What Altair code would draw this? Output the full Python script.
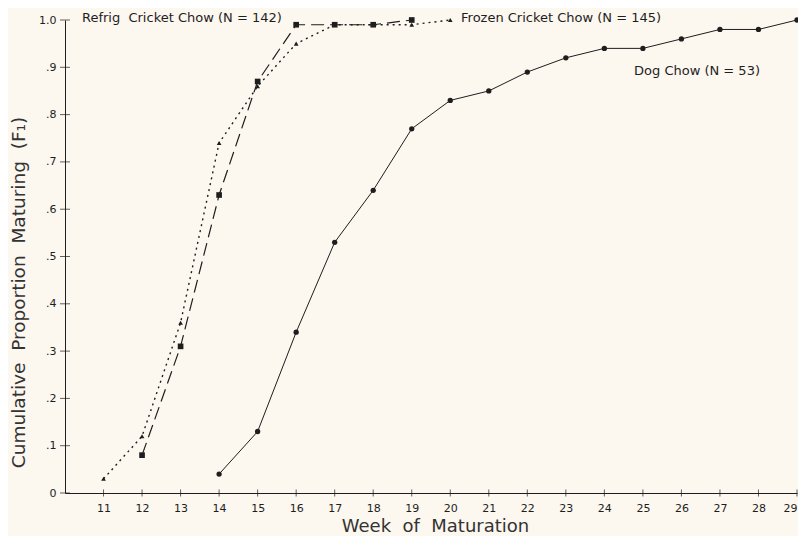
import altair as alt
import pandas as pd

weeks_refrig = [12, 13, 14, 15, 16, 17, 18, 19]
vals_refrig = [0.08, 0.31, 0.63, 0.87, 0.99, 0.99, 0.99, 1.00]

weeks_frozen = [11, 12, 13, 14, 15, 16, 17, 18, 19, 20]
vals_frozen = [0.03, 0.12, 0.36, 0.74, 0.86, 0.95, 0.99, 0.99, 0.99, 1.00]

weeks_dog = [14, 15, 16, 17, 18, 19, 20, 21, 22, 23, 24, 25, 26, 27, 28, 29]
vals_dog = [0.04, 0.13, 0.34, 0.53, 0.64, 0.77, 0.83, 0.85, 0.89, 0.92, 0.94, 0.94, 0.96, 0.98, 0.98, 1.00]

x_ticks = list(range(11, 30))
y_ticks = [0, 0.1, 0.2, 0.3, 0.4, 0.5, 0.6, 0.7, 0.8, 0.9, 1.0]

NB = "\u00a0"
label_text = ["Refrig" + NB + NB + "Cricket Chow (N = 142)", "Frozen Cricket Chow (N = 145)", "Dog Chow (N = 53)"]
label_x = [10.44, 20.28, 24.77]
label_y = [1.005, 1.005, 0.893]

x_title = ("Week" + NB + NB + "of" + NB + NB + "Maturation")
y_title = ("Cumulative" + NB + NB + "Proportion" + NB + NB + "Maturing" + NB + NB + "(F₁)")

INK = "#1e1e1e"
FONT = "DejaVu Sans"

refrig = pd.DataFrame({"week": weeks_refrig, "p": vals_refrig})
frozen = pd.DataFrame({"week": weeks_frozen, "p": vals_frozen})
dog = pd.DataFrame({"week": weeks_dog, "p": vals_dog})
labels = pd.DataFrame({"t": label_text, "x": label_x, "y": label_y})
xt = pd.DataFrame({"week": x_ticks, "p": [0] * len(x_ticks)})
yt = pd.DataFrame({"week": [10] * len(y_ticks), "p": y_ticks})

xs = alt.Scale(domain=[10, 29], nice=False, zero=False)
ys = alt.Scale(domain=[0, 1], nice=False)

x_enc = alt.X("week:Q", scale=xs, axis=alt.Axis(
    values=x_ticks, title=x_title, ticks=False, grid=False,
    labelFont=FONT, labelFontSize=11, labelColor=INK, labelPadding=9,
    titleFont=FONT, titleFontSize=18, titleFontWeight="normal", titleColor="#333",
    titlePadding=4, titleX=370, titleAlign="center", domainColor=INK, domainWidth=1))
y_enc = alt.Y("p:Q", scale=ys, axis=alt.Axis(
    values=y_ticks, title=y_title, ticks=False, grid=False,
    labelExpr="datum.value == 0 ? '0' : datum.value == 1 ? '1.0' : substring(format(datum.value, '.1f'), 1)",
    labelFont=FONT, labelFontSize=11, labelColor=INK, labelPadding=9,
    titleFont=FONT, titleFontSize=18.5, titleFontWeight="normal", titleColor="#333",
    titlePadding=10, titleY=272, domainColor=INK, domainWidth=1))

base_x = alt.X("week:Q", scale=xs)
base_y = alt.Y("p:Q", scale=ys)

ax_layer = alt.Chart(xt).mark_point(opacity=0).encode(x=x_enc, y=y_enc)

xticks_layer = alt.Chart(xt).mark_tick(orient="vertical", size=7, thickness=1, color=INK).encode(x=base_x, y=base_y)
yticks_layer = alt.Chart(yt).mark_tick(orient="horizontal", size=10, thickness=1, color=INK).encode(x=base_x, y=base_y)

l_refrig = alt.Chart(refrig).mark_line(color=INK, strokeWidth=1.2, strokeDash=[13, 6]).encode(x=base_x, y=base_y)
p_refrig = alt.Chart(refrig).mark_point(shape="square", filled=True, size=32, color=INK, opacity=1).encode(x=base_x, y=base_y)

l_frozen = alt.Chart(frozen).mark_line(color=INK, strokeWidth=1.4, strokeDash=[2, 4]).encode(x=base_x, y=base_y)
p_frozen = alt.Chart(frozen).mark_point(shape="triangle-up", filled=True, size=22, color=INK, opacity=1).encode(x=base_x, y=base_y)

l_dog = alt.Chart(dog).mark_line(color=INK, strokeWidth=1).encode(x=base_x, y=base_y)
p_dog = alt.Chart(dog).mark_point(shape="circle", filled=True, size=28, color=INK, opacity=1).encode(x=base_x, y=base_y)

txt = alt.Chart(labels).mark_text(align="left", baseline="middle", font=FONT, fontSize=13, color=INK).encode(
    x=alt.X("x:Q", scale=xs), y=alt.Y("y:Q", scale=ys), text="t:N")

chart = alt.layer(ax_layer, xticks_layer, yticks_layer, l_dog, l_frozen, l_refrig,
                  p_dog, p_frozen, p_refrig, txt).properties(
    width=732, height=473,
    autosize=alt.AutoSizeParams(type="none"),
    padding={"left": 57, "top": 12, "right": 1, "bottom": 43},
    background="#fcf7ef",
).configure_view(stroke=None)

chart.save("out.html", embed_options={"renderer": "svg", "actions": False})
